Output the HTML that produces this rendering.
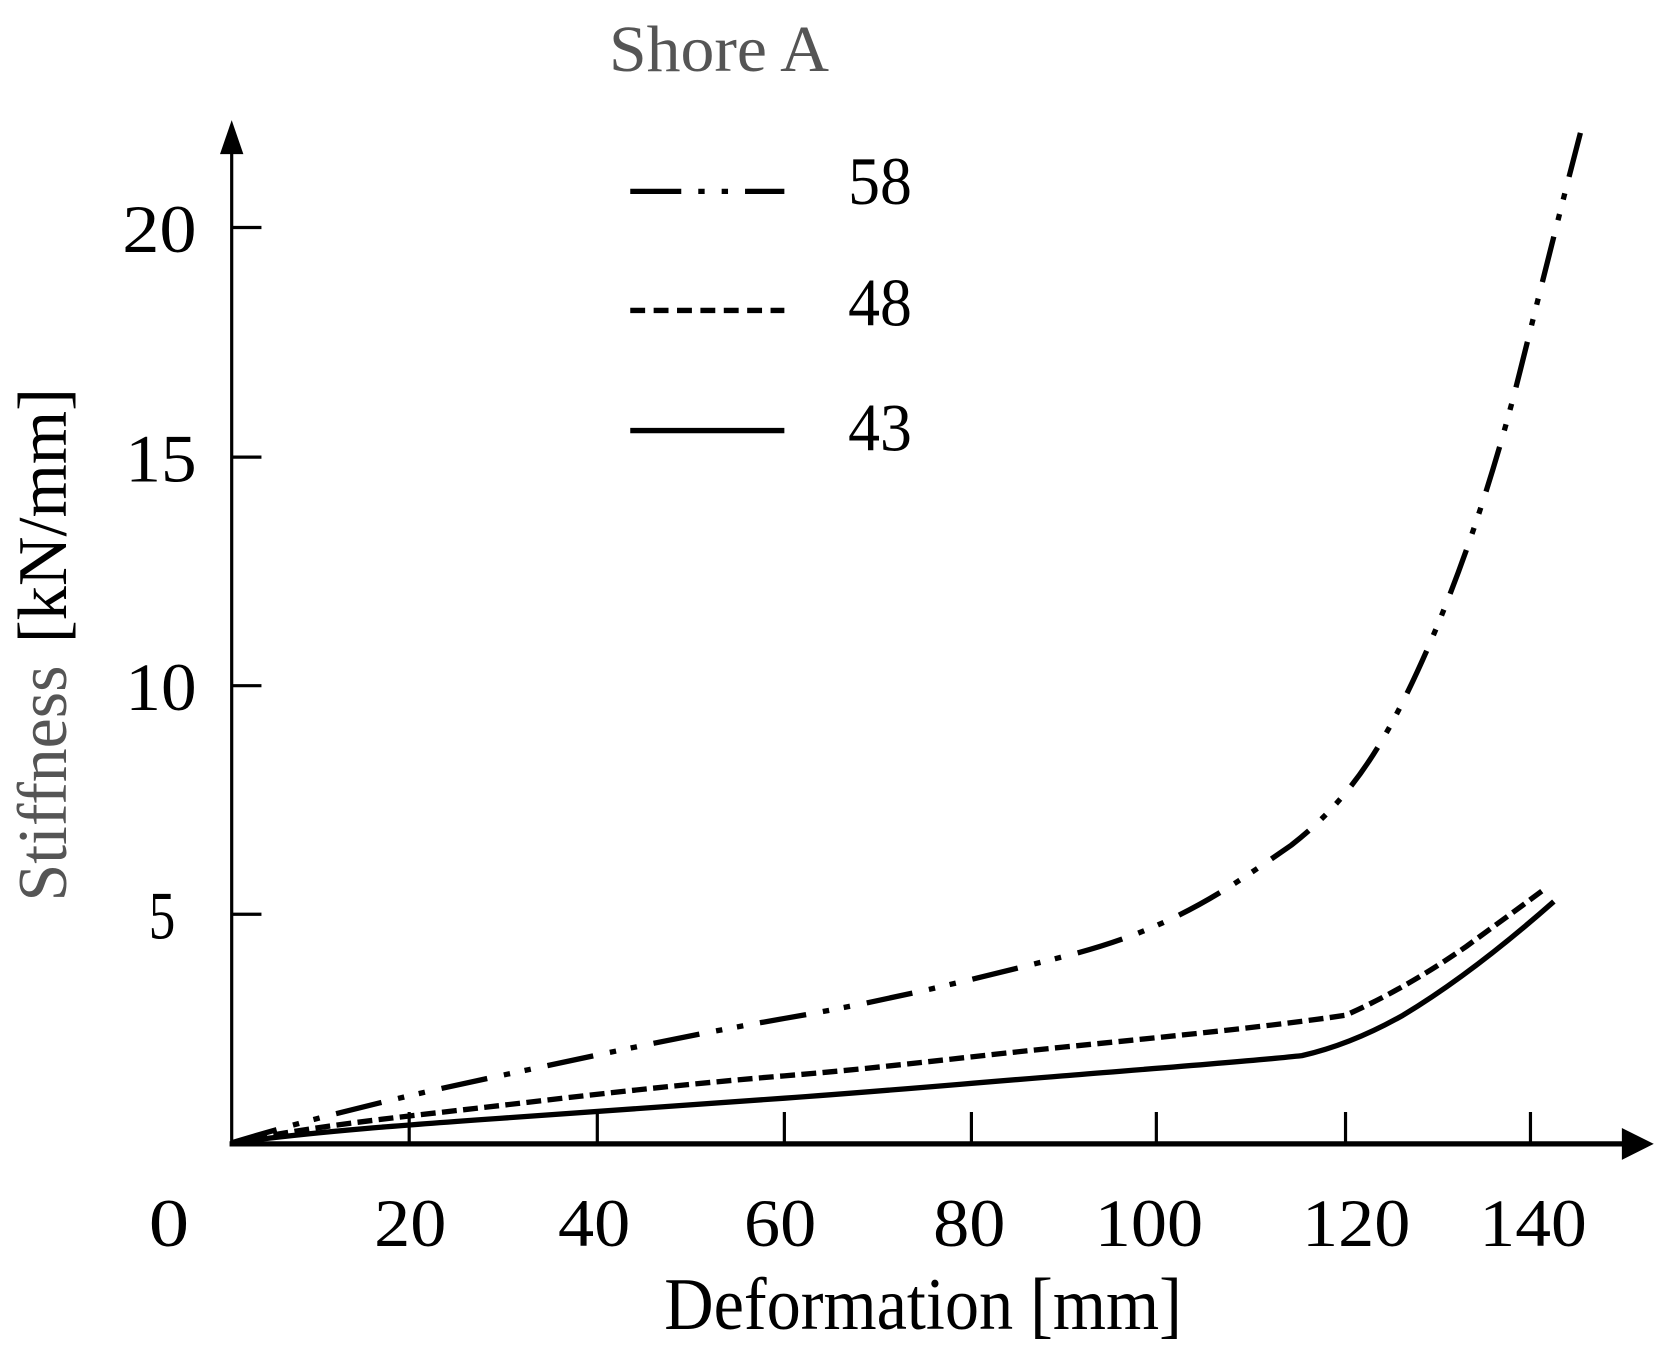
<!DOCTYPE html>
<html><head><style>html,body{margin:0;padding:0;background:#fff;}svg{display:block}</style></head>
<body>
<svg width="1658" height="1348" viewBox="0 0 1560 1268" preserveAspectRatio="none" xmlns="http://www.w3.org/2000/svg" font-family="Liberation Serif, serif">
<rect width="1560" height="1268" fill="#fff"/>
<!-- axes -->
<line x1="218" y1="1076" x2="218" y2="140" stroke="#000" stroke-width="3"/>
<polygon points="218,113 207,145 229,145" fill="#000"/>
<line x1="216" y1="1076" x2="1530" y2="1076" stroke="#000" stroke-width="5"/>
<polygon points="1556,1076 1526,1061 1526,1091" fill="#000"/>
<g stroke="#000" stroke-width="3">
<line x1="218" y1="214" x2="246" y2="214"/><line x1="218" y1="430" x2="246" y2="430"/>
<line x1="218" y1="645" x2="246" y2="645"/><line x1="218" y1="860" x2="246" y2="860"/>
<line x1="385" y1="1076" x2="385" y2="1046"/><line x1="562" y1="1076" x2="562" y2="1046"/>
<line x1="738" y1="1076" x2="738" y2="1046"/><line x1="914" y1="1076" x2="914" y2="1046"/>
<line x1="1088" y1="1076" x2="1088" y2="1046"/><line x1="1266" y1="1076" x2="1266" y2="1046"/>
<line x1="1440" y1="1076" x2="1440" y2="1046"/>
</g>
<g font-size="64" fill="#000">
<text x="140" y="1172" textLength="38" lengthAdjust="spacingAndGlyphs">0</text>
<text x="352" y="1172" textLength="68" lengthAdjust="spacingAndGlyphs">20</text>
<text x="525" y="1172" textLength="68" lengthAdjust="spacingAndGlyphs">40</text>
<text x="700" y="1172" textLength="68" lengthAdjust="spacingAndGlyphs">60</text>
<text x="878" y="1172" textLength="68" lengthAdjust="spacingAndGlyphs">80</text>
<text x="1030" y="1172" textLength="102" lengthAdjust="spacingAndGlyphs">100</text>
<text x="1225" y="1172" textLength="102" lengthAdjust="spacingAndGlyphs">120</text>
<text x="1392" y="1172" textLength="101" lengthAdjust="spacingAndGlyphs">140</text>
<text x="115" y="237" textLength="70" lengthAdjust="spacingAndGlyphs">20</text>
<text x="118" y="453" textLength="67" lengthAdjust="spacingAndGlyphs">15</text>
<text x="118" y="668" textLength="67" lengthAdjust="spacingAndGlyphs">10</text>
<text x="140" y="883" textLength="25" lengthAdjust="spacingAndGlyphs">5</text>
<text x="798" y="192" textLength="60" lengthAdjust="spacingAndGlyphs">58</text>
<text x="798" y="306" textLength="60" lengthAdjust="spacingAndGlyphs">48</text>
<text x="798" y="424" textLength="60" lengthAdjust="spacingAndGlyphs">43</text>
</g>
<text x="573" y="67" font-size="62" fill="#555" textLength="207" lengthAdjust="spacingAndGlyphs">Shore A</text>
<text x="625" y="1250" font-size="70" fill="#000" textLength="487" lengthAdjust="spacingAndGlyphs">Deformation [mm]</text>
<g transform="translate(62,848) rotate(-90)">
<text x="0" y="0" font-size="66" fill="#555" textLength="222" lengthAdjust="spacingAndGlyphs">Stiffness</text>
<text x="243" y="0" font-size="66" fill="#000" textLength="240" lengthAdjust="spacingAndGlyphs">[kN/mm]</text>
</g>
<!-- legend lines -->
<line x1="593" y1="180" x2="738" y2="180" stroke="#000" stroke-width="5" stroke-dasharray="48,16,6,16,6,16"/>
<line x1="593" y1="292" x2="738" y2="292" stroke="#000" stroke-width="5" stroke-dasharray="14,8"/>
<line x1="593" y1="405" x2="738" y2="405" stroke="#000" stroke-width="5"/>
<!-- curves -->
<path d="M218,1075 C300,1050 385,1030 470,1012 S640,975 738,958 S900,925 1000,900 S1150,840 1215,795 C1260,760 1290,720 1320,660 C1360,580 1400,470 1430,350 C1450,270 1470,190 1487,125" fill="none" stroke="#000" stroke-width="5" stroke-dasharray="44,16,6,14,6,16"/>
<path d="M218,1075 C300,1058 385,1050 470,1040 S640,1020 738,1012 S900,995 1000,985 S1200,965 1266,955 C1300,940 1340,918 1380,890 C1410,868 1435,850 1455,835" fill="none" stroke="#000" stroke-width="5" stroke-dasharray="14,6"/>
<path d="M218,1075 C300,1064 385,1058 470,1052 S640,1040 738,1033 S900,1020 1000,1012 S1180,998 1225,993 C1260,985 1290,972 1320,955 C1370,925 1420,885 1462,848" fill="none" stroke="#000" stroke-width="5"/>
</svg>
</body></html>
